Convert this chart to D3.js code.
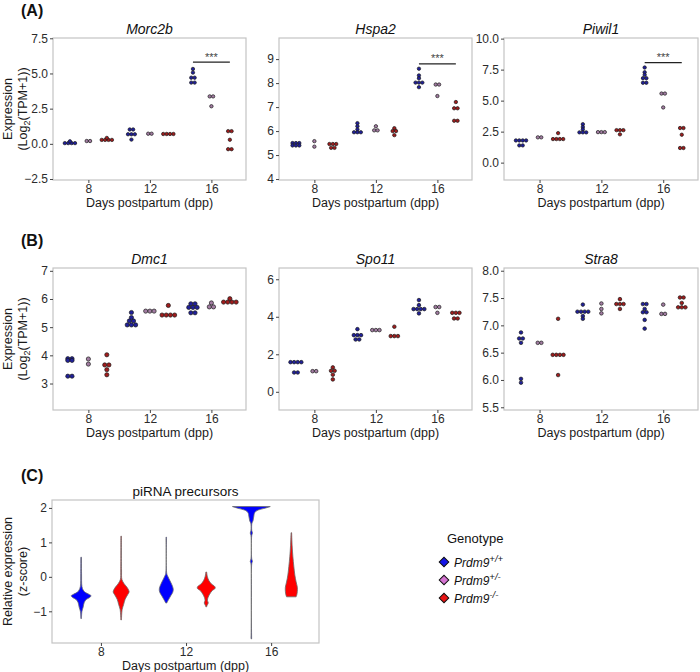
<!DOCTYPE html>
<html lang="en">
<head>
<meta charset="UTF-8">
<title>Prdm9 expression by dpp</title>
<script src="https://cdn.jsdelivr.net/npm/d3@7"></script>
<style>
  body { margin: 0; background: #fff; }
  text { font-family: "Liberation Sans", Arial, sans-serif; }
</style>
</head>
<body>
<div id="container"></div>
<script>
const width = 700;
const height = 672;

// x categories and genotypes
const days = [8, 12, 16];
const genotypeLabels = ['+/+', '+/-', '-/-'];
const genotypeColors = ['#1414e6', '#d574d2', '#e81414'];
const dotColors = ['#20209a', '#a27ca2', '#a01c1c'];
const dodge = [-1.2, 0, 1.2];

// one list per day x genotype: 8 (+/+, +/-, -/-), 12 (...), 16 (...)
const morc2bValues = [
  [0.05, 0.05, 0.05, 0.05, 0.18], [0.2, 0.2], [0.28, 0.28, 0.28, 0.28, 0.42],
  [1.02, 1.02, 0.68, 0.68, 0.68, 0.3], [0.72, 0.72], [0.7, 0.7, 0.7, 0.7],
  [5.32, 5.06, 4.7, 4.7, 4.35, 4.35], [3.37, 3.37, 2.67], [0.9, 0.9, 0.29, -0.38, -0.38]
];
const hspa2Values = [
  [5.5, 5.5, 5.5, 5.4, 5.4, 5.4], [5.58, 5.35], [5.46, 5.46, 5.46, 5.3, 5.3],
  [6.33, 6.2, 6.07, 5.95, 5.95, 5.95], [6.2, 6.03, 6.03], [6.12, 6.0, 6.0, 5.83],
  [8.6, 8.32, 8.2, 8.02, 8.02, 8.02, 7.83], [7.94, 7.94, 7.46], [7.21, 6.95, 6.95, 6.43, 6.43]
];
const piwil1Values = [
  [1.79, 1.79, 1.79, 1.79, 1.39, 1.39], [2.04, 2.04], [2.38, 1.9, 1.9, 1.9, 1.9],
  [3.1, 2.87, 2.68, 2.44, 2.44, 2.44], [2.46, 2.46, 2.46], [2.62, 2.62, 2.62, 2.28],
  [7.67, 7.29, 7.08, 6.81, 6.81, 6.44, 6.44], [5.57, 5.57, 4.45], [2.79, 2.79, 2.25, 1.18, 1.18]
];
const dmc1Values = [
  [3.88, 3.88, 3.82, 3.82, 3.26, 3.26], [3.87, 3.69], [4.02, 3.66, 3.66, 3.49, 3.31],
  [5.52, 5.34, 5.22, 5.22, 5.08, 5.08, 5.08], [5.57, 5.57, 5.57], [5.77, 5.43, 5.43, 5.43, 5.43],
  [5.83, 5.83, 5.7, 5.7, 5.7, 5.51, 5.51], [5.86, 5.72, 5.72], [6.01, 5.89, 5.89, 5.89, 5.89]
];
const spo11Values = [
  [1.58, 1.58, 1.58, 1.58, 1.03, 1.03], [1.1, 1.1], [1.3, 1.12, 1.12, 0.91, 0.66],
  [3.34, 3.02, 3.02, 3.02, 2.79, 2.79], [3.29, 3.29, 3.29], [3.47, 2.97, 2.97, 2.97],
  [4.89, 4.62, 4.41, 4.41, 4.41, 4.41, 4.18], [4.52, 4.52, 4.21], [4.21, 4.21, 4.21, 3.91, 3.91]
];
const stra8Values = [
  [6.87, 6.76, 6.76, 6.68, 6.02, 5.95], [6.68, 6.68], [7.12, 6.46, 6.46, 6.46, 6.46, 6.09],
  [7.38, 7.25, 7.25, 7.25, 7.25, 7.17, 7.12], [7.4, 7.3, 7.22], [7.48, 7.39, 7.39, 7.39, 7.3],
  [7.39, 7.39, 7.3, 7.24, 7.24, 7.1, 6.94], [7.38, 7.21, 7.21], [7.51, 7.51, 7.41, 7.33, 7.33, 7.33]
];

// y tick labels
const morc2bTicks = [-2.5, 0, 2.5, 5, 7.5];
const hspa2Ticks = [4, 5, 6, 7, 8, 9];
const piwil1Ticks = [0, 2.5, 5, 7.5, 10];
const dmc1Ticks = [3, 4, 5, 6, 7];
const spo11Ticks = [0, 2, 4, 6];
const stra8Ticks = [5.5, 6, 6.5, 7, 7.5, 8];
const dayTicks = [8, 12, 16];

// significance bar height (*** between +/+ and -/- at 16 dpp)
const morc2bSig = 5.8;
const hspa2Sig = 8.8;
const piwil1Sig = 8.07;

// piRNA precursor violins: [value, density]
const violinDays = [8, 8, 12, 12, 16, 16];
const violinGenotype = [0, 2, 0, 2, 0, 2];
const violinProfiles = [
  [[0.57,0.3],[0.1,0.4],[-0.28,0.8],[-0.38,2],[-0.45,4],[-0.51,8],[-0.55,10],[-0.6,8.5],[-0.66,5],[-0.75,3],[-0.88,2],[-1.0,0.8],[-1.21,0.3]],
  [[1.18,0.3],[0.2,0.4],[-0.08,0.8],[-0.2,3],[-0.33,6.5],[-0.44,8],[-0.52,6.5],[-0.65,4],[-0.8,2.5],[-0.95,1],[-1.25,0.3]],
  [[1.15,0.3],[0.1,0.5],[0.02,1.5],[-0.1,3.5],[-0.22,5.5],[-0.35,7],[-0.45,6.5],[-0.55,4.5],[-0.65,2.5],[-0.76,0.5]],
  [[0.14,0.4],[0.02,1],[-0.1,2.5],[-0.2,5],[-0.28,8.5],[-0.33,9],[-0.4,6],[-0.5,3.5],[-0.6,1.8],[-0.68,1.2],[-0.76,2],[-0.82,1],[-0.87,0.4]],
  [[2.04,19],[2.02,17],[1.98,12],[1.94,7],[1.9,4.5],[1.84,3],[1.76,2.5],[1.68,2],[1.62,1.6],[1.56,0.6],[1.35,0.4],[1.27,1.1],[1.2,0.4],[0.52,0.4],[0.45,1.1],[0.38,0.4],[-1.8,0.3]],
  [[1.28,0.3],[0.9,0.8],[0.6,1.5],[0.3,2.5],[0.05,3.5],[-0.15,4.8],[-0.3,6],[-0.42,6],[-0.52,5.5],[-0.58,4.8]]
];
const violinTicks = [-1, 0, 1, 2];

const svg = d3.select('#container').append('svg')
  .attr('width', width)
  .attr('height', height);

const cols = [[53, 246], [279, 472], [504, 698]];
const rows = [[38, 180], [268, 410]];
const xDomain = [5.7, 18.25];

const panels = [
  { name: 'Morc2b', values: morc2bValues, ticks: morc2bTicks, domain: [-2.57, 7.52], col: 0, row: 0, r: 1.7, fmt: '.1f', sig: morc2bSig },
  { name: 'Hspa2', values: hspa2Values, ticks: hspa2Ticks, domain: [3.96, 9.88], col: 1, row: 0, r: 1.7, fmt: 'd', sig: hspa2Sig },
  { name: 'Piwil1', values: piwil1Values, ticks: piwil1Ticks, domain: [-1.4, 10.05], col: 2, row: 0, r: 1.7, fmt: '.1f', sig: piwil1Sig },
  { name: 'Dmc1', values: dmc1Values, ticks: dmc1Ticks, domain: [2.06, 7.1], col: 0, row: 1, r: 2.1, fmt: 'd' },
  { name: 'Spo11', values: spo11Values, ticks: spo11Ticks, domain: [-0.97, 6.6], col: 1, row: 1, r: 1.8, fmt: 'd' },
  { name: 'Stra8', values: stra8Values, ticks: stra8Ticks, domain: [5.45, 8.05], col: 2, row: 1, r: 1.8, fmt: '.1f' }
];

function frame(x, y, ticks, fmt, title, titleItalic) {
  const [x0, x1] = x.range();
  const [y1, y0] = y.range();
  const g = svg.append('g');

  g.append('rect')
    .attr('x', x0).attr('y', y0)
    .attr('width', x1 - x0).attr('height', y1 - y0)
    .attr('fill', 'none').attr('stroke', '#c4c4c4').attr('stroke-width', 1.2);

  const yAxis = g.append('g')
    .attr('transform', `translate(${x0},0)`)
    .call(d3.axisLeft(y).tickValues(ticks).tickSize(3).tickPadding(2).tickFormat(d3.format(fmt)));
  const xAxis = g.append('g')
    .attr('transform', `translate(0,${y1})`)
    .call(d3.axisBottom(x).tickValues(dayTicks).tickSize(3).tickPadding(1.5).tickFormat(d3.format('d')));
  [yAxis, xAxis].forEach(a => {
    a.select('.domain').remove();
    a.selectAll('line').attr('stroke', '#444');
    a.selectAll('text').attr('font-size', 12).attr('fill', '#2b2b2b')
      .attr('font-family', '"Liberation Sans", Arial, sans-serif');
  });

  g.append('text')
    .attr('x', (x0 + x1) / 2).attr('y', y1 + 27)
    .attr('text-anchor', 'middle').attr('font-size', 12.5).attr('fill', '#1a1a1a')
    .text('Days postpartum (dpp)');

  g.append('text')
    .attr('x', (x0 + x1) / 2).attr('y', y0 - 4)
    .attr('text-anchor', 'middle').attr('font-size', titleItalic ? 14 : 13.5)
    .attr('font-style', titleItalic ? 'italic' : 'normal').attr('fill', '#111')
    .text(title);
  return g;
}

function yTitle(cy, line1, line2) {
  const g = svg.append('g').attr('font-size', 12.5).attr('fill', '#1a1a1a').attr('text-anchor', 'middle');
  g.append('text').attr('transform', `translate(12,${cy}) rotate(-90)`).text(line1);
  const t = g.append('text').attr('transform', `translate(27,${cy}) rotate(-90)`);
  line2(t);
}

panels.forEach(p => {
  const [x0, x1] = cols[p.col];
  const [y0, y1] = rows[p.row];
  const x = d3.scaleLinear().domain(xDomain).range([x0, x1]);
  const y = d3.scaleLinear().domain(p.domain).range([y1, y0]);
  const g = frame(x, y, p.ticks, p.fmt, p.name, true);

  // dotplot: equal values stack sideways, centred on the group
  const dots = [];
  p.values.forEach((vals, i) => {
    const day = days[Math.floor(i / 3)];
    const gi = i % 3;
    d3.groups(vals, v => v).forEach(([v, arr]) => {
      arr.forEach((_, k) => dots.push({ day, gi, v, k, n: arr.length }));
    });
  });
  g.append('g').selectAll('circle')
    .data(dots)
    .join('circle')
    .attr('cx', d => x(d.day + dodge[d.gi]) + (d.k - (d.n - 1) / 2) * p.r * 2)
    .attr('cy', d => y(d.v))
    .attr('r', p.r)
    .attr('fill', d => dotColors[d.gi])
    .attr('stroke', '#1a1a1a')
    .attr('stroke-width', 0.7);

  if (p.sig !== undefined) {
    const sx0 = x(16 + dodge[0]), sx1 = x(16 + dodge[2]);
    g.append('line')
      .attr('x1', sx0).attr('x2', sx1)
      .attr('y1', y(p.sig)).attr('y2', y(p.sig))
      .attr('stroke', '#222').attr('stroke-width', 1.2);
    g.append('text')
      .attr('x', (sx0 + sx1) / 2).attr('y', y(p.sig) - 1.5)
      .attr('text-anchor', 'middle').attr('font-size', 11).attr('fill', '#444')
      .text('***');
  }
});

const log2Title = t => {
  t.append('tspan').text('(Log');
  t.append('tspan').attr('font-size', 9).attr('dy', 3).text('2');
  t.append('tspan').attr('dy', -3).text('(TPM+1))');
};
yTitle((rows[0][0] + rows[0][1]) / 2, 'Expression', log2Title);
yTitle((rows[1][0] + rows[1][1]) / 2, 'Expression', log2Title);

// panel C: violins
const xv = d3.scaleLinear().domain(xDomain).range([52, 319]);
const yv = d3.scaleLinear().domain([-1.92, 2.23]).range([643, 500]);
const widthScale = d3.scaleLinear().domain([0, 19]).range([0, 0.89]);
const gv = frame(xv, yv, violinTicks, 'd', 'piRNA precursors', false);
const violinOffset = [-0.93, 0, 0.95];

gv.append('g').selectAll('path')
  .data(violinProfiles.map((prof, i) => ({ prof, day: violinDays[i], gi: violinGenotype[i] })))
  .join('path')
  .attr('d', d => {
    const c = d.day + violinOffset[d.gi];
    return d3.area()
      .y(q => yv(q[0]))
      .x0(q => xv(c - widthScale(q[1])))
      .x1(q => xv(c + widthScale(q[1])))
      .curve(d3.curveCatmullRom.alpha(0.5))(d.prof);
  })
  .attr('fill', d => d.gi === 0 ? '#0000ff' : '#ff0000')
  .attr('stroke', '#6a6a6a')
  .attr('stroke-width', 0.8);

yTitle((500 + 643) / 2, 'Relative expression', t => t.text('(z-score)'));

// panel letters
[['(A)', 16], ['(B)', 246], ['(C)', 481]].forEach(([lab, yy]) => {
  svg.append('text').attr('x', 21).attr('y', yy)
    .attr('font-size', 16).attr('font-weight', 'bold').attr('fill', '#111').text(lab);
});

// legend
const legend = svg.append('g').attr('transform', 'translate(444,0)');
legend.append('text').attr('x', 3).attr('y', 543)
  .attr('font-size', 13).attr('fill', '#111').text('Genotype');
const items = legend.selectAll('g.item')
  .data(genotypeLabels)
  .join('g')
  .attr('class', 'item')
  .attr('transform', (d, i) => `translate(0,${562 + i * 18})`);
items.append('path')
  .attr('d', d3.symbol().type(d3.symbolSquare).size(46))
  .attr('transform', 'rotate(45)')
  .attr('fill', (d, i) => genotypeColors[i])
  .attr('stroke', '#111').attr('stroke-width', 1);
items.append('text')
  .attr('x', 10).attr('y', 4.5)
  .attr('font-size', 12).attr('font-style', 'italic').attr('fill', '#111')
  .call(t => t.append('tspan').text('Prdm9'))
  .call(t => t.append('tspan').attr('font-size', 9.5).attr('dy', -5).text(d => d));
</script>
</body>
</html>
